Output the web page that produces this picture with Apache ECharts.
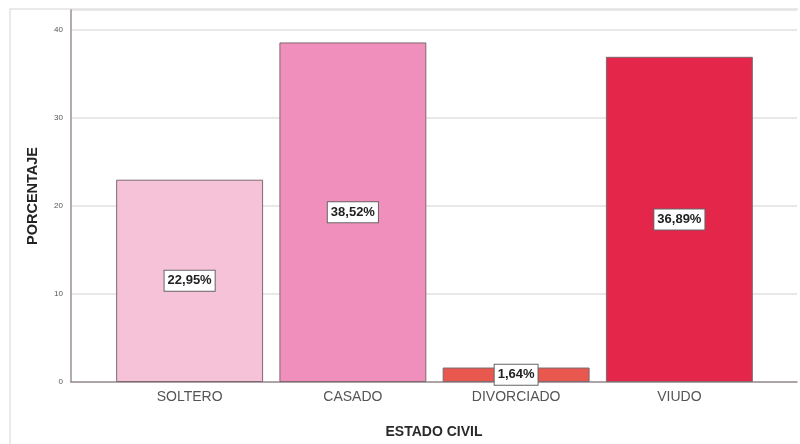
<!DOCTYPE html>
<html>
<head>
<meta charset="utf-8">
<script src="https://cdn.jsdelivr.net/npm/echarts@6/dist/echarts.min.js"></script>
<style>
  html, body { margin: 0; padding: 0; background: #ffffff; }
  #chart { width: 800px; height: 444px; }
</style>
</head>
<body>
<div id="chart"></div>
<script>
// Estado civil: porcentaje por categoría
const categories = ['SOLTERO', 'CASADO', 'DIVORCIADO', 'VIUDO'];
const percentages = [22.95, 38.52, 1.64, 36.89];
const barColors = ['#F6C2D8', '#F08FBB', '#E8584E', '#E4264A'];
const yTicks = [0, 10, 20, 30, 40];

const yMax = 42.2;
const plotTop = 10;
const plotBottom = 62;

const chart = echarts.init(document.getElementById('chart'), null, { renderer: 'canvas' });

const fmt = v => v.toFixed(2).replace('.', ',') + '%';

chart.setOption({
  backgroundColor: '#ffffff',
  animation: false,
  graphic: [
    {
      type: 'polyline',
      shape: { points: [[10, 444], [10, 9], [798, 9]] },
      style: { stroke: '#e4e4e4', lineWidth: 1.5, fill: null },
      silent: true
    }
  ],
  grid: [
    // frame with the value axis and gridlines spanning the full width
    { left: 71, right: 3, top: plotTop, bottom: plotBottom },
    // band area where the bars sit
    { left: 108, right: 39, top: plotTop, bottom: plotBottom }
  ],
  xAxis: [
    {
      type: 'value', gridIndex: 0, min: 0, max: 1,
      axisLine: { show: true, onZero: false, lineStyle: { color: '#9a8f92', width: 1.5 } },
      axisTick: { show: false }, axisLabel: { show: false }, splitLine: { show: false },
      name: 'ESTADO CIVIL', nameLocation: 'middle', nameGap: 43,
      nameTextStyle: { fontFamily: 'Liberation Sans', fontSize: 14, fontWeight: 'bold', color: '#2a2a2a' }
    },
    {
      type: 'category', gridIndex: 1, data: categories,
      axisLine: { show: false }, axisTick: { show: false },
      axisLabel: { fontFamily: 'Liberation Sans', fontSize: 14, color: '#555555', margin: 8 }
    }
  ],
  yAxis: [
    {
      type: 'value', gridIndex: 0, min: 0, max: yMax, interval: 10,
      axisLine: { show: true, lineStyle: { color: '#9a8f92', width: 1.5 } },
      axisTick: { show: false },
      axisLabel: {
        fontFamily: 'Liberation Sans', fontSize: 8, color: '#555555', margin: 8,
        formatter: v => (yTicks.indexOf(v) >= 0 ? String(v) : '')
      },
      splitLine: { show: true, lineStyle: { color: '#e2dfe0', width: 1.5 } },
      name: 'PORCENTAJE', nameLocation: 'middle', nameGap: 31, nameRotate: 90,
      nameTextStyle: { fontFamily: 'Liberation Sans', fontSize: 14.5, fontWeight: 'bold', color: '#222222' }
    },
    {
      type: 'value', gridIndex: 1, min: 0, max: yMax, show: false
    }
  ],
  series: [
    {
      type: 'bar',
      xAxisIndex: 1, yAxisIndex: 1,
      barCategoryGap: '10%',
      data: percentages.map((v, i) => ({
        value: v,
        itemStyle: { color: barColors[i], borderColor: '#7d6a70', borderWidth: 1 }
      })),
      label: {
        show: true,
        position: 'inside',
        formatter: p => fmt(p.value),
        fontFamily: 'Liberation Sans', fontSize: 13, fontWeight: 'bold', color: '#222222',
        backgroundColor: '#ffffff', borderColor: '#666666', borderWidth: 1,
        padding: [4, 3, 3, 3]
      }
    }
  ]
});
</script>
</body>
</html>
